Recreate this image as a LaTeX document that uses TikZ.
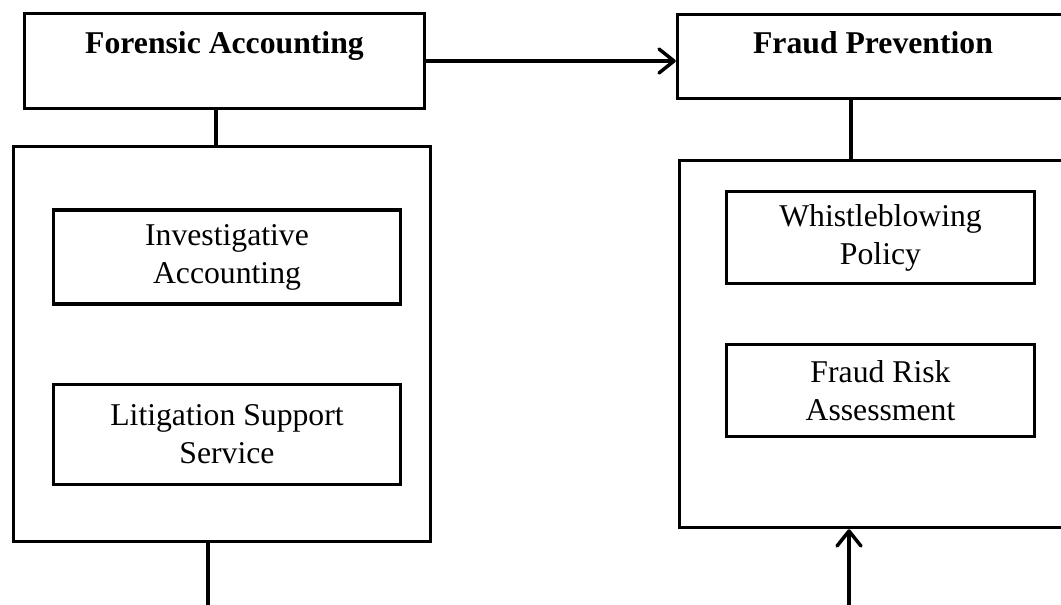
\documentclass[tikz,border=0pt]{standalone}
\usepackage{fontspec}
\setmainfont{Liberation Serif}
\usetikzlibrary{arrows.meta}

\begin{document}
\begin{tikzpicture}[x=1pt, y=-1pt, line width=3.5pt,
    box/.style={draw, rectangle, inner sep=0pt, align=center,
      font=\fontsize{31.7}{38}\selectfont},
    headbox/.style={box, font=\fontsize{31.7}{38}\selectfont\bfseries},
    >={Straight Barb[length=15pt, width=24pt, round]}]
  \useasboundingbox (0,0) rectangle (1061,605);
  \clip (0,0) rectangle (1061,605);

  % Forensic accounting side
  \node[headbox, minimum width=400pt, text height=39.5pt, text depth=55.5pt]
    (fa) at (224.5,61) {Forensic Accounting};
  \node[box, minimum width=417pt, minimum height=395pt] (fw) at (222,344) {};
  \node[box, minimum width=347pt, minimum height=94pt] (ia) at (227,257)
    {Investigative\\Accounting};
  \node[box, minimum width=347pt, minimum height=100pt] (ls) at (227,434.5)
    {Litigation Support\\Service};

  % Fraud prevention side
  \node[headbox, minimum width=391pt, text height=38.5pt, text depth=45.5pt]
    (fp) at (873,56.5) {Fraud Prevention};
  \node[box, minimum width=402pt, minimum height=367pt] (pw) at (880.5,344) {};
  \node[box, minimum width=308pt, minimum height=92pt] (wp) at (880.5,237.5)
    {Whistleblowing\\Policy};
  \node[box, minimum width=308pt, minimum height=92pt] (fr) at (880.5,390.5)
    {Fraud Risk\\Assessment};

  % connectors
  \coordinate (fadrop) at (216,0);
  \coordinate (fpdrop) at (851,0);
  \coordinate (fwout) at (208,605);
  \coordinate (pwin) at (849,605);
  \draw (fadrop |- fa.south) -- (fadrop |- fw.north);
  \draw (fpdrop |- fp.south) -- (fpdrop |- pw.north);
  \draw[->] (fa.east) -- (fa.east -| fp.west);
  \draw (fwout |- fw.south) -- (fwout);
  \draw[->] (pwin) -- (pwin |- pw.south);
\end{tikzpicture}
\end{document}
